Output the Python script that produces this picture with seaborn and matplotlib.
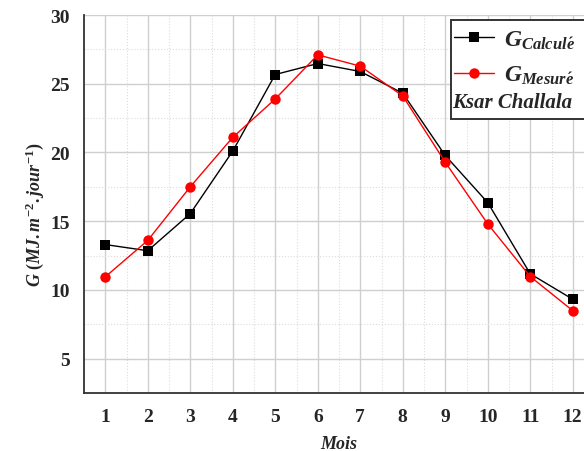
import matplotlib
matplotlib.use("Agg")
import matplotlib.pyplot as plt
import matplotlib.patches as mpatches
from matplotlib.lines import Line2D
from matplotlib.ticker import MultipleLocator
import pandas as pd
import seaborn as sns

mois = [1, 2, 3, 4, 5, 6, 7, 8, 9, 10, 11, 12]
g_calcule = [13.3, 12.85, 15.55, 20.1, 25.67, 26.47, 25.89, 24.31, 19.78, 16.35, 11.17, 9.32]
g_mesure = [10.95, 13.6, 17.5, 21.1, 23.89, 27.1, 26.28, 24.11, 19.29, 14.8, 10.97, 8.49]
series_names = ["Calculé", "Mesuré"]
site = "Ksar Challala"

df = pd.DataFrame({
    "Mois": mois * 2,
    "G": g_calcule + g_mesure,
    "serie": [series_names[0]] * len(mois) + [series_names[1]] * len(mois),
})

sns.set_style("white")
plt.rcParams["font.family"] = ["Liberation Serif", "DejaVu Serif"]
plt.rcParams["font.weight"] = "bold"
plt.rcParams["mathtext.fontset"] = "custom"
plt.rcParams["mathtext.rm"] = "Liberation Serif:bold"
plt.rcParams["mathtext.it"] = "Liberation Serif:bold:italic"
plt.rcParams["mathtext.bf"] = "Liberation Serif:bold"

fig = plt.figure(figsize=(5.84, 4.52), dpi=100)
ax = fig.add_axes([84 / 584, 58 / 452, 510 / 584, 378 / 452])

colors = {"Calculé": "black", "Mesuré": "red"}
markers = {"Calculé": "s", "Mesuré": "o"}
sizes = {"Calculé": 6.5, "Mesuré": 7.5}
for name in series_names:
    sub = df[df["serie"] == name]
    sns.lineplot(data=sub, x="Mois", y="G", ax=ax, color=colors[name],
                 marker=markers[name], markersize=sizes[name],
                 markeredgewidth=0, linewidth=1.0, legend=False, zorder=3)

ax.set_xlim(0.5, 12.5)
ax.set_ylim(2.5, 30)
ax.xaxis.set_major_locator(MultipleLocator(1))
ax.xaxis.set_minor_locator(MultipleLocator(0.5))
ax.yaxis.set_major_locator(MultipleLocator(5))
ax.yaxis.set_minor_locator(MultipleLocator(2.5))
ax.set_yticks([5, 10, 15, 20, 25, 30])

ax.grid(which="major", color="#cfcfcf", linewidth=1.0, linestyle="-")
ax.grid(which="minor", color="#dcdcdc", linewidth=0.8, linestyle=":")
ax.set_axisbelow(True)

for s in ["top", "right"]:
    ax.spines[s].set_visible(False)
for s in ["left", "bottom"]:
    ax.spines[s].set_color("#333333")
    ax.spines[s].set_linewidth(1.3)

ax.tick_params(which="major", direction="out", length=6, width=1.1,
               color="#333333", labelsize=14, pad=4)
ax.tick_params(which="minor", direction="out", length=3.5, width=1.0,
               color="#333333")
ax.tick_params(axis="x", which="major", pad=5)
for lab in ax.get_xticklabels() + ax.get_yticklabels():
    lab.set_fontweight("bold")

ax.set_xlabel("Mois", fontsize=13, fontstyle="italic", fontweight="bold", labelpad=7)
ax.set_ylabel(r"$G\ (MJ.m^{-2}.jour^{-1})$", fontsize=13)
ax.yaxis.set_label_coords(-38 / 510, 0.476)

# legend box
box = mpatches.Rectangle((451 / 584, 1 - 120 / 452), 0.3, 99 / 452,
                         transform=fig.transFigure, fill=True, facecolor="white",
                         edgecolor="#333333", linewidth=1.4, zorder=5)
fig.patches.append(box)

handles = [
    Line2D([], [], color="black", marker="s", markersize=6.5, markeredgewidth=0, linewidth=1.0),
    Line2D([], [], color="red", marker="o", markersize=7.5, markeredgewidth=0, linewidth=1.0),
]
labels = [r"$G_{Calcul\acute{e}}$", r"$G_{Mesur\acute{e}}$"]
leg = fig.legend(handles, labels, loc="upper left",
                 bbox_to_anchor=(449 / 584, 1 - 25 / 452), frameon=False,
                 fontsize=17, handlelength=1.7, handletextpad=0.45,
                 labelspacing=0.55, borderpad=0.2, borderaxespad=0)
leg.set_zorder(6)
fig.text(452 / 584, 1 - 103 / 452, site, fontsize=15, fontstyle="italic",
         fontweight="bold", va="center", ha="left", zorder=7)

fig.savefig("out.png", dpi=100)
